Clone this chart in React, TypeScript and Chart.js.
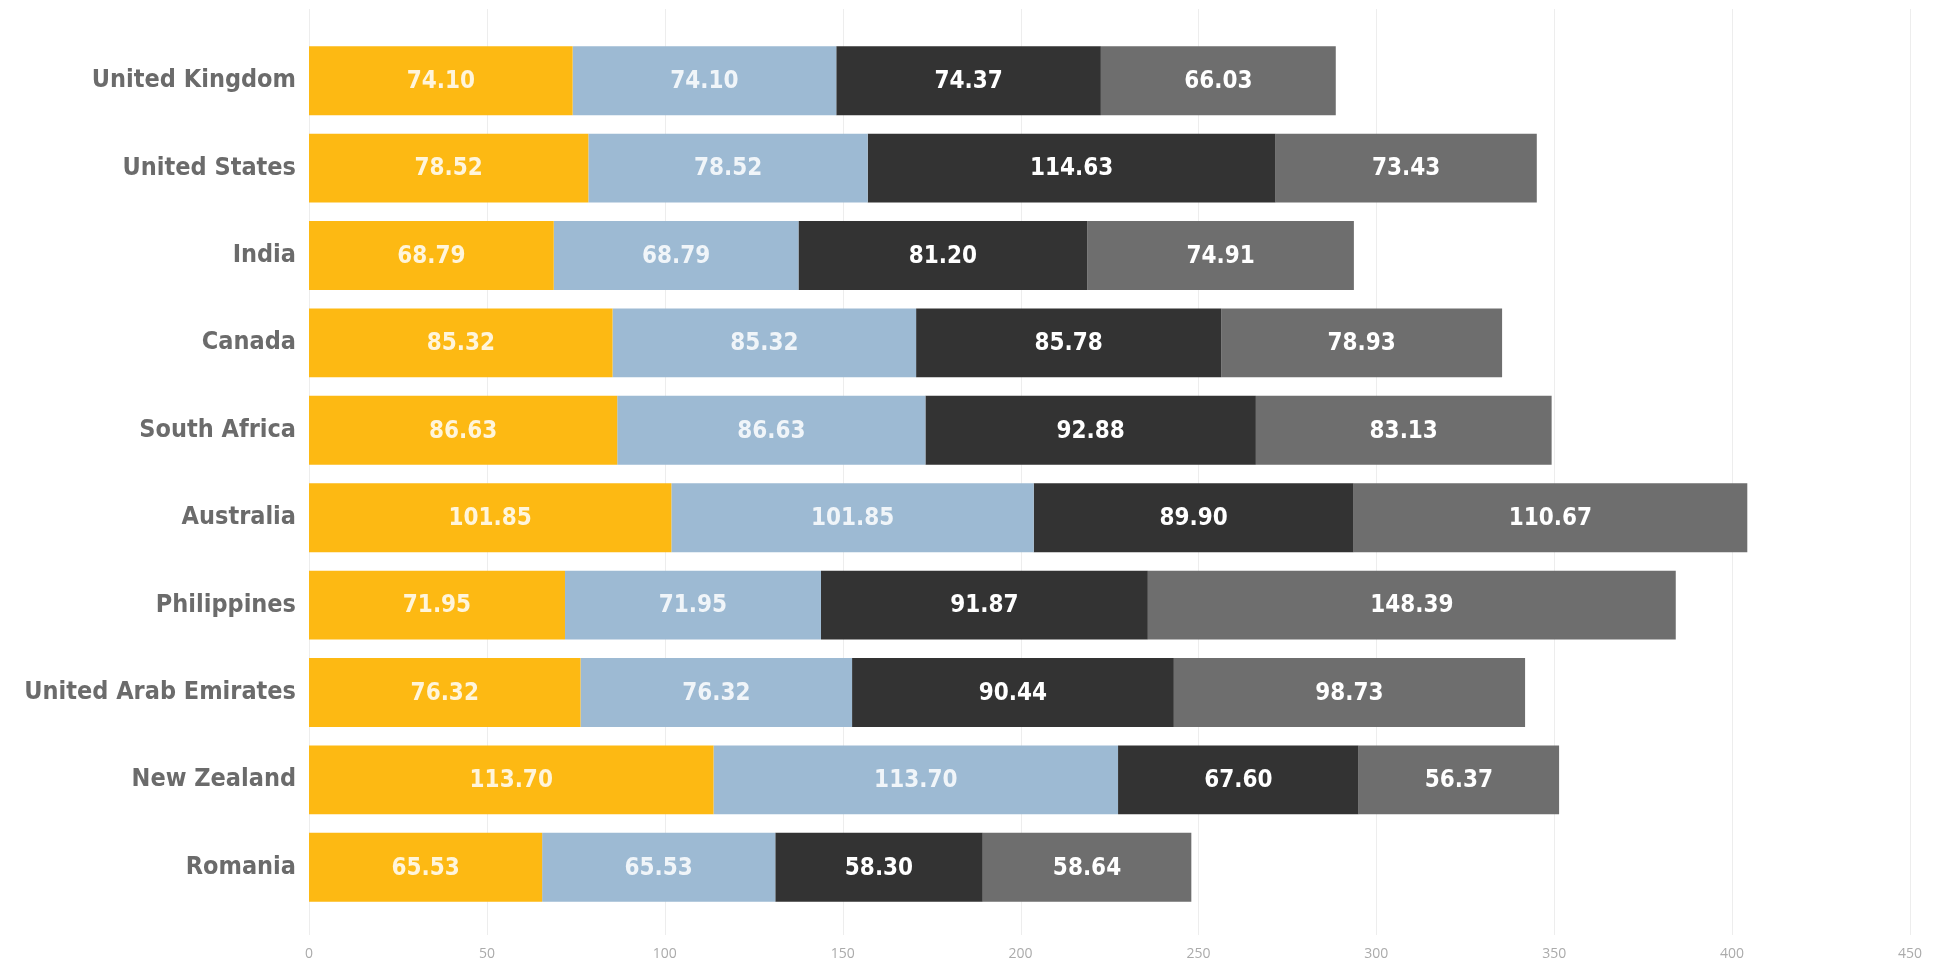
import React, { useEffect, useRef } from "react";
import { Chart, registerables } from "chart.js";

Chart.register(...registerables);

const countries = [
  "United Kingdom",
  "United States",
  "India",
  "Canada",
  "South Africa",
  "Australia",
  "Philippines",
  "United Arab Emirates",
  "New Zealand",
  "Romania",
];

const series1 = [74.1, 78.52, 68.79, 85.32, 86.63, 101.85, 71.95, 76.32, 113.7, 65.53];
const series2 = [74.1, 78.52, 68.79, 85.32, 86.63, 101.85, 71.95, 76.32, 113.7, 65.53];
const series3 = [74.37, 114.63, 81.2, 85.78, 92.88, 89.9, 91.87, 90.44, 67.6, 58.3];
const series4 = [66.03, 73.43, 74.91, 78.93, 83.13, 110.67, 148.39, 98.73, 56.37, 58.64];

const seriesNames = ["Series 1", "Series 2", "Series 3", "Series 4"];
const xTicks = [0, 50, 100, 150, 200, 250, 300, 350, 400, 450];

const COLORS = ["#FDB913", "#9DBAD3", "#333333", "#6E6E6E"];
const LABEL_COLORS = ["rgba(255,255,255,0.85)", "rgba(255,255,255,0.85)", "#FFFFFF", "#FFFFFF"];
const CAT_FONT = '"DejaVu Sans Condensed", "DejaVu Sans", sans-serif';

const gridPlugin = {
  id: "customGrid",
  beforeDatasetsDraw(chart: any) {
    const { ctx, scales, chartArea } = chart;
    const x = scales.x;
    ctx.save();
    ctx.strokeStyle = "#EDEDED";
    ctx.lineWidth = 1;
    xTicks.forEach((v) => {
      const px = Math.round(x.getPixelForValue(v)) + 0.5;
      ctx.beginPath();
      ctx.moveTo(px, chartArea.top - 28);
      ctx.lineTo(px, chartArea.bottom + 24);
      ctx.stroke();
    });
    ctx.restore();
  },
};

const valueLabelPlugin = {
  id: "valueLabels",
  afterDatasetsDraw(chart: any) {
    const { ctx } = chart;
    ctx.save();
    ctx.font = `bold 24px ${CAT_FONT}`;
    ctx.textAlign = "center";
    ctx.textBaseline = "middle";
    chart.data.datasets.forEach((ds: any, di: number) => {
      const meta = chart.getDatasetMeta(di);
      meta.data.forEach((bar: any, i: number) => {
        const v = ds.data[i];
        const cx = (bar.x + bar.base) / 2;
        ctx.fillStyle = LABEL_COLORS[di];
        ctx.fillText(Number(v).toFixed(2), cx, bar.y + 1);
      });
    });
    ctx.restore();
  },
};

export default function App() {
  const canvasRef = useRef<HTMLCanvasElement | null>(null);

  useEffect(() => {
    if (!canvasRef.current) return;
    const allSeries = [series1, series2, series3, series4];
    const chart = new Chart(canvasRef.current, {
      type: "bar",
      data: {
        labels: countries,
        datasets: allSeries.map((d, i) => ({
          label: seriesNames[i],
          data: d,
          backgroundColor: COLORS[i],
          borderWidth: 0,
          categoryPercentage: 1,
          barPercentage: 0.788,
        })),
      },
      options: {
        indexAxis: "y",
        responsive: false,
        animation: false,
        layout: { padding: { top: 37, right: 50, left: 0, bottom: 0 } },
        plugins: {
          legend: { display: false },
          tooltip: { enabled: false },
        },
        scales: {
          x: {
            stacked: true,
            min: 0,
            max: 450,
            grid: { display: false, drawTicks: false },
            border: { display: false },
            ticks: {
              stepSize: 50,
              padding: 35,
              color: "#ABABAB",
              font: { family: '"Open Sans", sans-serif', size: 14 },
            },
            afterFit(scale: any) {
              scale.height = 51;
            },
          },
          y: {
            stacked: true,
            grid: { display: false, drawTicks: false },
            border: { display: false },
            ticks: {
              padding: 13,
              color: "#6B6B6B",
              font: { family: CAT_FONT, size: 25, weight: "bold" },
            },
            afterFit(scale: any) {
              scale.width = 309;
            },
          },
        },
      },
      plugins: [gridPlugin, valueLabelPlugin],
    } as any);
    return () => chart.destroy();
  }, []);

  return (
    <div style={{ position: "absolute", left: 0, top: 0, width: 1960, height: 962, background: "#fff" }}>
      <canvas ref={canvasRef} width={1960} height={962} style={{ width: 1960, height: 962 }} />
    </div>
  );
}
